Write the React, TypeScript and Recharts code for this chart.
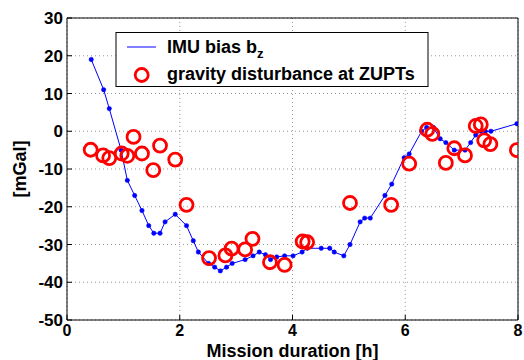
import React from "react";
import {
  ComposedChart,
  Line,
  Scatter,
  XAxis,
  YAxis,
  CartesianGrid,
} from "recharts";

// IMU bias b_z (blue line with dots)
const biasHours = [
  0.43, 0.65, 0.75, 0.96, 1.07, 1.2, 1.33, 1.45, 1.54, 1.65, 1.74, 1.92, 2.12, 2.24, 2.33,
  2.51, 2.62, 2.72, 2.83, 2.93, 3.16, 3.3, 3.41, 3.52, 3.61, 3.72, 3.86, 4.01, 4.17, 4.26,
  4.51, 4.66, 4.74, 4.91, 5.02, 5.2, 5.28, 5.38, 5.64, 5.76, 5.98, 6.07, 6.29, 6.38, 6.5,
  6.62, 6.72, 6.87, 7.06, 7.16, 7.25, 7.34, 7.42, 7.52, 7.98,
];
const biasValues = [
  19, 11, 6, -5, -13, -17, -21, -25, -27, -27, -24, -22, -25, -29, -32,
  -35, -36, -37, -36, -35, -34, -33, -32, -32.7, -34, -33.3, -33, -33, -32, -31,
  -31, -31, -32, -33, -30, -24, -23, -23, -17, -14, -7, -6, 0, 1, 1,
  -2, -3, -5, -5, -3, -1, 0, 0, 0, 2,
];

// gravity disturbance at ZUPTs (red circles)
const zuptHours = [
  0.42, 0.64, 0.75, 0.97, 1.07, 1.18, 1.33, 1.53, 1.65, 1.92, 2.12, 2.52, 2.81, 2.92, 3.16,
  3.29, 3.6, 3.86, 4.18, 4.26, 5.02, 5.75, 6.07, 6.39, 6.48, 6.72, 6.87, 7.06, 7.25, 7.34,
  7.4, 7.51, 7.98,
];
const zuptValues = [
  -4.9, -6.4, -7.1, -5.9, -6.5, -1.5, -5.9, -10.3, -3.8, -7.5, -19.5, -33.6, -32.9, -31.1, -31.3,
  -28.5, -34.7, -35.4, -29.2, -29.4, -19.0, -19.5, -8.6, 0.4, -0.7, -8.4, -4.5, -6.4, 1.4, 1.8,
  -2.4, -3.4, -5.0,
];

const xTicks = [0, 2, 4, 6, 8];
const yTicks = [-50, -40, -30, -20, -10, 0, 10, 20, 30];

const biasData = biasHours.map((t, i) => ({ t, v: biasValues[i] }));
const zuptData = zuptHours.map((t, i) => ({ t, v: zuptValues[i] }));

const FONT = "'Liberation Sans', Arial, Helvetica, sans-serif";
const tickStyle = { fontSize: 17, fontWeight: 700, fill: "#000", fontFamily: FONT };
const xTickStyle = { ...tickStyle, fontSize: 16 };

function RedCircle(props: any) {
  const { cx, cy } = props;
  if (cx == null || cy == null) return <g />;
  return <circle cx={cx} cy={cy} r={6.5} fill="none" stroke="#ff0000" strokeWidth={2.8} />;
}

function LegendBox() {
  return (
    <svg
      width={524}
      height={360}
      style={{ position: "absolute", left: 0, top: 0, pointerEvents: "none" }}
    >
      <rect x={116} y={32.5} width={312} height={54} fill="#fff" stroke="#000" strokeWidth={1} />
      <line x1={127} y1={47} x2={156} y2={47} stroke="#0000ff" strokeWidth={1} />
      <text x={167} y={53} fontSize={18} fontWeight={700} fontFamily={FONT} fill="#000">
        IMU bias b
        <tspan fontSize={13} dy={5}>z</tspan>
      </text>
      <circle cx={141.7} cy={75} r={6.5} fill="none" stroke="#ff0000" strokeWidth={2.8} />
      <text x={167} y={80} fontSize={18} fontWeight={700} fontFamily={FONT} fill="#000">
        gravity disturbance at ZUPTs
      </text>
    </svg>
  );
}

export default function App() {
  return (
    <div style={{ position: "absolute", left: 0, top: 0, width: 524, height: 360, background: "#fff" }}>
      <ComposedChart
        width={524}
        height={360}
        margin={{ top: 17, right: 5, bottom: 0, left: 0 }}
      >
        <CartesianGrid stroke="#999" strokeDasharray="1 3" />
        <XAxis
          type="number"
          dataKey="t"
          domain={[0, 8]}
          ticks={xTicks}
          allowDataOverflow
          height={40}
          stroke="#000"
          tickSize={-5}
          tickMargin={10}
          tick={xTickStyle}
          label={{
            value: "Mission duration [h]",
            position: "insideBottom",
            offset: 3,
            style: { fontSize: 18, fontWeight: 700, fill: "#000", fontFamily: FONT },
          }}
        />
        <XAxis
          xAxisId="top"
          orientation="top"
          type="number"
          domain={[0, 8]}
          ticks={xTicks}
          allowDataOverflow
          height={1}
          stroke="#000"
          tickSize={-5}
          tick={false}
        />
        <YAxis
          type="number"
          domain={[-50, 30]}
          ticks={yTicks}
          allowDataOverflow
          width={67}
          stroke="#000"
          tickSize={-5}
          tickMargin={9}
          tick={tickStyle}
          label={{
            value: "[mGal]",
            angle: -90,
            position: "insideLeft",
            offset: 20,
            style: { fontSize: 18, fontWeight: 700, fill: "#000", fontFamily: FONT, textAnchor: "middle" },
          }}
        />
        <YAxis
          yAxisId="right"
          orientation="right"
          type="number"
          domain={[-50, 30]}
          ticks={yTicks}
          allowDataOverflow
          width={1}
          stroke="#000"
          tickSize={-5}
          tick={false}
        />
        <Line
          data={biasData}
          dataKey="v"
          type="linear"
          stroke="#0000ff"
          strokeWidth={1}
          dot={{ r: 2.2, fill: "#0000ff", stroke: "#0000ff", strokeWidth: 0.5 }}
          activeDot={false}
          isAnimationActive={false}
        />
        <Scatter
          data={zuptData}
          dataKey="v"
          shape={<RedCircle />}
          isAnimationActive={false}
        />
      </ComposedChart>
      <LegendBox />
    </div>
  );
}
